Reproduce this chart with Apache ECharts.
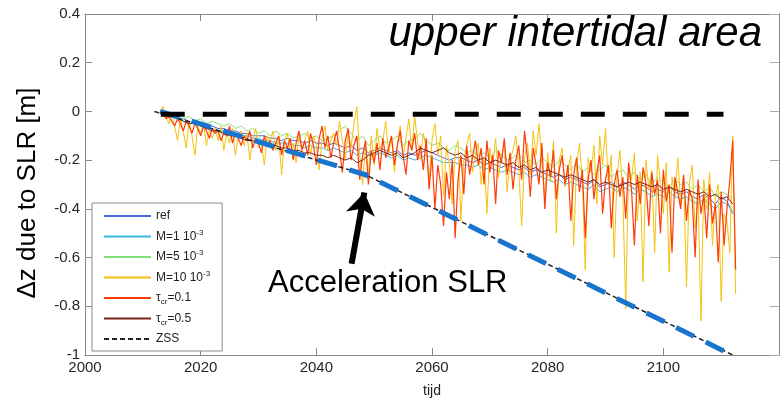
<!DOCTYPE html>
<html>
<head>
<meta charset="utf-8">
<script src="https://cdn.jsdelivr.net/npm/echarts@6/dist/echarts.min.js"></script>
<style>
  html, body { margin: 0; padding: 0; background: #fff; }
  #chart { width: 782px; height: 403px; }
</style>
</head>
<body>
<div id="chart"></div>
<script>
// x-axis ticks
const xTicks = [2000, 2020, 2040, 2060, 2080, 2100, 2120];
const yTicks = [-1, -0.8, -0.6, -0.4, -0.2, 0, 0.2, 0.4];

// smooth runs: one value per year, 2013..2112
const refVals = [
  0, -0.01, -0.02, -0.03, -0.03, -0.04, -0.05, -0.05, -0.06, -0.06,
  -0.07, -0.07, -0.08, -0.08, -0.09, -0.09, -0.10, -0.10, -0.10, -0.11,
  -0.11, -0.12, -0.11, -0.12, -0.12, -0.13, -0.12, -0.13, -0.13, -0.14,
  -0.13, -0.14, -0.15, -0.14, -0.16, -0.15, -0.17, -0.16, -0.15, -0.16,
  -0.17, -0.16, -0.18, -0.17, -0.18, -0.17, -0.16, -0.17, -0.18, -0.19,
  -0.20, -0.19, -0.19, -0.20, -0.21, -0.20, -0.22, -0.21, -0.22, -0.23,
  -0.22, -0.23, -0.24, -0.23, -0.25, -0.24, -0.25, -0.26, -0.27, -0.26,
  -0.28, -0.27, -0.28, -0.29, -0.30, -0.28, -0.31, -0.30, -0.29, -0.31,
  -0.29, -0.30, -0.32, -0.30, -0.31, -0.33, -0.32, -0.33, -0.31, -0.33,
  -0.34, -0.33, -0.35, -0.36, -0.34, -0.36, -0.38, -0.35, -0.37, -0.42
];
const m1Vals = [
  0, -0.01, -0.02, -0.03, -0.04, -0.05, -0.05, -0.06, -0.07, -0.07,
  -0.08, -0.08, -0.09, -0.09, -0.10, -0.10, -0.11, -0.11, -0.12, -0.12,
  -0.13, -0.13, -0.13, -0.14, -0.14, -0.15, -0.14, -0.15, -0.15, -0.16,
  -0.15, -0.16, -0.17, -0.16, -0.18, -0.17, -0.18, -0.18, -0.17, -0.18,
  -0.19, -0.18, -0.20, -0.19, -0.20, -0.19, -0.18, -0.19, -0.20, -0.21,
  -0.21, -0.21, -0.22, -0.22, -0.23, -0.22, -0.24, -0.23, -0.24, -0.25,
  -0.24, -0.25, -0.26, -0.25, -0.27, -0.26, -0.27, -0.28, -0.29, -0.28,
  -0.30, -0.29, -0.30, -0.31, -0.32, -0.30, -0.33, -0.32, -0.31, -0.33,
  -0.31, -0.32, -0.34, -0.32, -0.33, -0.35, -0.34, -0.35, -0.33, -0.35,
  -0.36, -0.35, -0.37, -0.38, -0.36, -0.38, -0.40, -0.37, -0.38, -0.41
];
const m5Vals = [
  0, -0.01, -0.01, -0.02, -0.03, -0.02, -0.04, -0.03, -0.05, -0.04,
  -0.05, -0.06, -0.05, -0.07, -0.06, -0.08, -0.07, -0.09, -0.08, -0.10,
  -0.08, -0.10, -0.09, -0.11, -0.10, -0.09, -0.11, -0.10, -0.12, -0.11,
  -0.10, -0.08, -0.06, -0.09, -0.12, -0.10, -0.14, -0.12, -0.10, -0.13,
  -0.12, -0.10, -0.14, -0.12, -0.11, -0.09, -0.12, -0.14, -0.13, -0.15,
  -0.16, -0.14, -0.15, -0.17, -0.16, -0.18, -0.17, -0.19, -0.16, -0.18,
  -0.20, -0.19, -0.17, -0.21, -0.20, -0.22, -0.19, -0.21, -0.23, -0.20,
  -0.22, -0.24, -0.21, -0.25, -0.23, -0.26, -0.24, -0.22, -0.27, -0.25,
  -0.24, -0.27, -0.25, -0.28, -0.26, -0.30, -0.27, -0.29, -0.31, -0.28,
  -0.30, -0.29, -0.32, -0.30, -0.33, -0.31, -0.35, -0.33, -0.34, -0.36
];
const tau05Vals = [
  0, -0.01, -0.02, -0.03, -0.04, -0.05, -0.05, -0.06, -0.07, -0.08,
  -0.08, -0.09, -0.10, -0.10, -0.11, -0.12, -0.12, -0.13, -0.13, -0.14,
  -0.14, -0.15, -0.15, -0.16, -0.16, -0.17, -0.17, -0.18, -0.18, -0.19,
  -0.18, -0.19, -0.20, -0.19, -0.21, -0.20, -0.18, -0.17, -0.16, -0.17,
  -0.18, -0.17, -0.19, -0.18, -0.17, -0.15, -0.16, -0.17, -0.16, -0.15,
  -0.17, -0.18, -0.17, -0.19, -0.18, -0.20, -0.19, -0.21, -0.20, -0.21,
  -0.22, -0.21, -0.23, -0.22, -0.24, -0.23, -0.25, -0.24, -0.25, -0.26,
  -0.27, -0.26, -0.27, -0.28, -0.29, -0.28, -0.30, -0.29, -0.30, -0.31,
  -0.30, -0.29, -0.30, -0.29, -0.30, -0.31, -0.30, -0.32, -0.31, -0.32,
  -0.33, -0.32, -0.33, -0.34, -0.33, -0.35, -0.34, -0.36, -0.35, -0.38
];

// noisy runs: two values per year, 2013.0..2112.5
const m10Vals = [
  0, 0.02, -0.02, -0.05, -0.01, -0.06, -0.12, -0.03, -0.08, -0.15,
  -0.04, -0.10, -0.18, -0.06, -0.09, -0.05, -0.14, -0.08, -0.11, -0.07,
  -0.12, -0.06, -0.16, -0.09, -0.13, -0.07, -0.18, -0.10, -0.08, -0.14,
  -0.09, -0.20, -0.11, -0.07, -0.15, -0.12, -0.22, -0.10, -0.13, -0.08,
  -0.16, -0.11, -0.26, -0.12, -0.09, -0.17, -0.13, -0.21, -0.10, -0.15,
  -0.12, -0.08, -0.18, -0.10, -0.14, -0.24, -0.11, -0.06, -0.16, -0.12,
  -0.09, -0.14, -0.04, -0.12, -0.20, -0.08, -0.15, -0.05, 0.02, -0.18,
  -0.30, -0.14, -0.26, -0.10, -0.22, -0.07, -0.16, -0.12, -0.04, -0.18,
  -0.10, -0.25, -0.14, -0.06, -0.19, -0.11, -0.03, -0.16, -0.02, -0.12,
  -0.20, -0.09, -0.15, -0.28, -0.12, -0.05, -0.18, -0.10, -0.35, -0.14,
  -0.22, -0.38, -0.16, -0.12, -0.45, -0.20, -0.14, -0.09, -0.25, -0.18,
  -0.13, -0.30, -0.19, -0.42, -0.15, -0.22, -0.11, -0.27, -0.18, -0.14,
  -0.33, -0.20, -0.16, -0.10, -0.24, -0.47, -0.19, -0.13, -0.26, -0.08,
  -0.18, -0.05, -0.22, -0.36, -0.17, -0.29, -0.12, -0.50, -0.20, -0.15,
  -0.31, -0.24, -0.18, -0.55, -0.22, -0.13, -0.28, -0.65, -0.19, -0.25,
  -0.14, -0.38, -0.10, -0.22, -0.07, -0.30, -0.18, -0.60, -0.26, -0.16,
  -0.35, -0.81, -0.22, -0.28, -0.17, -0.45, -0.25, -0.70, -0.20, -0.32,
  -0.24, -0.58, -0.18, -0.30, -0.42, -0.21, -0.66, -0.27, -0.35, -0.19,
  -0.38, -0.26, -0.72, -0.30, -0.22, -0.48, -0.33, -0.86, -0.28, -0.40,
  -0.25, -0.55, -0.35, -0.30, -0.78, -0.42, -0.45, -0.58, -0.10, -0.75
];
const tau01Vals = [
  0, -0.01, -0.03, -0.02, -0.04, -0.06, -0.03, -0.05, -0.08, -0.04,
  -0.06, -0.09, -0.05, -0.07, -0.10, -0.06, -0.08, -0.11, -0.07, -0.09,
  -0.08, -0.12, -0.09, -0.10, -0.06, -0.13, -0.09, -0.11, -0.14, -0.10,
  -0.12, -0.08, -0.15, -0.11, -0.13, -0.17, -0.10, -0.14, -0.12, -0.16,
  -0.13, -0.10, -0.18, -0.12, -0.15, -0.11, -0.20, -0.13, -0.08, -0.16,
  -0.12, -0.18, -0.09, -0.14, -0.22, -0.11, -0.06, -0.15, -0.10, -0.19,
  -0.13, -0.08, -0.16, -0.25, -0.12, -0.07, -0.20, -0.14, -0.10, -0.28,
  -0.18, -0.12, -0.30, -0.16, -0.21, -0.13, -0.24, -0.11, -0.19, -0.15,
  -0.10, -0.22, -0.14, -0.08, -0.18, -0.26, -0.12, -0.16, -0.09, -0.20,
  -0.14, -0.24, -0.11, -0.32, -0.18, -0.40, -0.22, -0.30, -0.47, -0.25,
  -0.36, -0.20, -0.52, -0.28, -0.18, -0.34, -0.14, -0.26, -0.19, -0.12,
  -0.22, -0.15, -0.30, -0.12, -0.25, -0.18, -0.38, -0.16, -0.21, -0.11,
  -0.26, -0.17, -0.32, -0.20, -0.14, -0.28, -0.08, -0.19, -0.35, -0.15,
  -0.22, -0.30, -0.13, -0.40, -0.21, -0.27, -0.16, -0.36, -0.24, -0.18,
  -0.30, -0.22, -0.45, -0.26, -0.19, -0.33, -0.24, -0.52, -0.28, -0.20,
  -0.36, -0.25, -0.18, -0.42, -0.28, -0.22, -0.48, -0.30, -0.24, -0.35,
  -0.27, -0.44, -0.21, -0.32, -0.55, -0.26, -0.38, -0.23, -0.30, -0.47,
  -0.25, -0.34, -0.28, -0.50, -0.24, -0.37, -0.30, -0.58, -0.27, -0.33,
  -0.40, -0.26, -0.45, -0.32, -0.36, -0.60, -0.28, -0.42, -0.34, -0.52,
  -0.30, -0.46, -0.38, -0.62, -0.33, -0.55, -0.40, -0.28, -0.12, -0.65
];

// ZSS sea level curve and the annotation lines
const zssPoints = [[2012, 0], [2048.5, -0.26], [2112, -1]];
const accelPoints = [[2013, 0], [2048.5, -0.26], [2111, -0.99]];
const zeroPoints = [[2013.1, -0.012], [2110.4, -0.012]];
const arrowPoints = [[2046.1, -0.625], [2048.3, -0.333]];

const seriesNames = ['ref', 'M=1 10^-3', 'M=5 10^-3', 'M=10 10^-3', 'τ_cr=0.1', 'τ_cr=0.5', 'ZSS'];

const smoothYears = [];
for (let y = 2013; y <= 2112; y++) smoothYears.push(y);
const halfYears = [];
for (let i = 0; i < m10Vals.length; i++) halfYears.push(2013 + i * 0.5);

function pairs(xs, ys) {
  return ys.map((v, i) => [xs[i], v]);
}

function lineSeries(name, data, color, extra) {
  return Object.assign({
    name: name,
    type: 'line',
    data: data,
    symbol: 'none',
    showSymbol: false,
    animation: false,
    lineStyle: { color: color, width: 1 },
    itemStyle: { color: color }
  }, extra || {});
}

// legend label with super/subscripts
function legendLabel(name) {
  if (name.indexOf('^') > 0) {
    const p = name.split('^');
    return p[0] + '{sup|' + p[1] + '}';
  }
  if (name.indexOf('_cr') > 0) {
    return 'τ{sub|cr}' + name.split('_cr')[1];
  }
  return name;
}

const axisGrey = '#8a8a8a';
const chart = echarts.init(document.getElementById('chart'));

const option = {
  animation: false,
  textStyle: { fontFamily: 'Liberation Sans' },
  title: {
    text: 'upper intertidal area',
    right: 20,
    top: 13,
    padding: 0,
    textStyle: { fontSize: 42, fontStyle: 'italic', fontWeight: 'normal', color: '#000', fontFamily: 'Liberation Sans' }
  },
  grid: { left: 85, top: 14, width: 703, height: 345, containLabel: false },
  legend: {
    orient: 'vertical',
    left: 92,
    top: 203,
    padding: [5, 12, 4, 11],
    itemWidth: 47,
    itemHeight: 14,
    itemGap: 4.5,
    backgroundColor: '#fff',
    borderColor: axisGrey,
    borderWidth: 1,
    borderRadius: 0,
    // hide the marker circle, keep only the line
    itemStyle: { opacity: 0 },
    data: seriesNames,
    formatter: legendLabel,
    textStyle: {
      fontSize: 12,
      color: '#222',
      lineHeight: 16,
      rich: {
        sup: { fontSize: 8, verticalAlign: 'top', lineHeight: 16, color: '#222' },
        sub: { fontSize: 8, verticalAlign: 'bottom', lineHeight: 16, color: '#222' }
      }
    }
  },
  xAxis: [{
    type: 'value',
    min: xTicks[0],
    max: xTicks[xTicks.length - 1],
    interval: 20,
    position: 'bottom',
    name: 'tijd',
    nameLocation: 'middle',
    nameGap: 29,
    nameTextStyle: { fontSize: 14, color: '#222' },
    axisLine: { onZero: false, lineStyle: { color: axisGrey, width: 1 } },
    axisTick: { inside: true, length: 7, lineStyle: { color: axisGrey } },
    axisLabel: { fontSize: 15, color: '#262626', margin: 5, formatter: v => (v > 2100 ? '' : String(v)) },
    splitLine: { show: false }
  }, {
    type: 'value',
    min: xTicks[0],
    max: xTicks[xTicks.length - 1],
    interval: 20,
    position: 'top',
    axisLine: { onZero: false, lineStyle: { color: axisGrey, width: 1 } },
    axisTick: { inside: true, length: 7, lineStyle: { color: axisGrey } },
    axisLabel: { show: false },
    splitLine: { show: false }
  }],
  yAxis: [{
    type: 'value',
    min: yTicks[0],
    max: yTicks[yTicks.length - 1],
    interval: 0.2,
    position: 'left',
    name: 'Δz due to SLR [m]',
    nameLocation: 'middle',
    nameGap: 44,
    nameTextStyle: { fontSize: 26, color: '#000', padding: [0, 17, 0, 0] },
    axisLine: { onZero: false, lineStyle: { color: axisGrey, width: 1 } },
    axisTick: { inside: true, length: 7, lineStyle: { color: axisGrey } },
    axisLabel: { fontSize: 15, color: '#262626', margin: 5, formatter: v => String(Number(v.toFixed(1))) },
    splitLine: { show: false }
  }, {
    type: 'value',
    min: yTicks[0],
    max: yTicks[yTicks.length - 1],
    interval: 0.2,
    position: 'right',
    axisLine: { onZero: false, lineStyle: { color: axisGrey, width: 1 } },
    axisTick: { inside: true, length: 9, lineStyle: { color: '#aaa' } },
    axisLabel: { show: false },
    splitLine: { show: false }
  }],
  graphic: [{
    type: 'text',
    left: 268,
    top: 268,
    style: { text: 'Acceleration SLR', font: '31px "Liberation Sans"', fill: '#000' }
  }],
  series: [
    lineSeries(seriesNames[0], pairs(smoothYears, refVals), '#4a63e0'),
    lineSeries(seriesNames[1], pairs(smoothYears, m1Vals), '#35b9e6'),
    lineSeries(seriesNames[2], pairs(smoothYears, m5Vals), '#86e07a'),
    lineSeries(seriesNames[3], pairs(halfYears, m10Vals), '#f4c20d'),
    lineSeries(seriesNames[4], pairs(halfYears, tau01Vals), '#ff3b0a', { lineStyle: { color: '#ff3b0a', width: 1.2 } }),
    lineSeries(seriesNames[5], pairs(smoothYears, tau05Vals), '#7a2418'),
    lineSeries(seriesNames[6], zssPoints, '#222', { lineStyle: { color: '#222', width: 1.5, type: [5, 3] } }),
    lineSeries('accel', accelPoints, '#1874cd', { z: 4, lineStyle: { color: '#1874cd', width: 5, type: [20, 13] } }),
    lineSeries('zero', zeroPoints, '#000', { z: 4, lineStyle: { color: '#000', width: 5, type: [24, 18] } }),
    {
      name: 'arrow',
      type: 'lines',
      coordinateSystem: 'cartesian2d',
      z: 5,
      animation: false,
      symbol: ['none', 'arrow'],
      symbolSize: 22,
      lineStyle: { color: '#000', width: 6, opacity: 1 },
      data: [{ coords: arrowPoints }]
    }
  ]
};

chart.setOption(option);
</script>
</body>
</html>
